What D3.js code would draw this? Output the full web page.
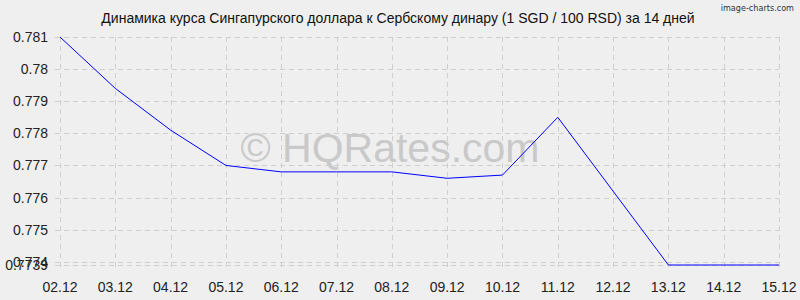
<!DOCTYPE html>
<html>
<head>
<meta charset="utf-8">
<script src="https://cdn.jsdelivr.net/npm/d3@7"></script>
<style>
  body { margin: 0; background: #efefef; }
  svg { display: block; font-family: "Liberation Sans", Arial, sans-serif; }
</style>
</head>
<body>
<svg id="chart" width="800" height="300"></svg>
<script>
// dates and rates
const dates = ["02.12", "03.12", "04.12", "05.12", "06.12", "07.12", "08.12",
               "09.12", "10.12", "11.12", "12.12", "13.12", "14.12", "15.12"];
const rates = [0.781, 0.7794, 0.7781, 0.7770, 0.7768, 0.7768, 0.7768,
               0.7766, 0.7767, 0.7785, 0.7762, 0.7739, 0.7739, 0.7739];
const yTicks = [0.774, 0.775, 0.776, 0.777, 0.778, 0.779, 0.78, 0.781];
const yMin = 0.7739;

const title = "Динамика курса Сингапурского доллара к Сербскому динару (1 SGD / 100 RSD) за 14 дней";

const svg = d3.select("#chart");
const width = 800, height = 300;
const margin = { left: 60, right: 21, top: 37, bottom: 35 };

const x = d3.scalePoint()
    .domain(dates)
    .range([margin.left, width - margin.right]);

const y = d3.scaleLinear()
    .domain([yMin, 0.781])
    .range([height - margin.bottom, margin.top]);

svg.append("rect").attr("width", width).attr("height", height).attr("fill", "#efefef");

// watermark
svg.append("text")
    .attr("x", 390)
    .attr("y", 162)
    .attr("text-anchor", "middle")
    .style("font-size", "41px")
    .style("fill", "#c9c9c9")
    .text("© HQRates.com");

// grid lines
const allTicks = yTicks.concat([yMin]);
svg.append("g").selectAll("line")
    .data(allTicks)
    .enter().append("line")
    .attr("x1", margin.left - 5)
    .attr("x2", width - margin.right)
    .attr("y1", d => Math.round(y(d)) + 0.5)
    .attr("y2", d => Math.round(y(d)) + 0.5)
    .style("stroke", "#cfcfcf")
    .style("stroke-dasharray", "5,4");

svg.append("g").selectAll("line")
    .data(dates)
    .enter().append("line")
    .attr("x1", d => Math.round(x(d)) + 0.5)
    .attr("x2", d => Math.round(x(d)) + 0.5)
    .attr("y1", margin.top)
    .attr("y2", height - margin.bottom + 5)
    .style("stroke", "#cfcfcf")
    .style("stroke-dasharray", "5,4");

// y labels
svg.append("g").selectAll("text")
    .data(allTicks)
    .enter().append("text")
    .attr("x", margin.left - 12)
    .attr("y", d => y(d) + 5)
    .attr("text-anchor", "end")
    .style("font-size", "14px")
    .style("fill", "#222")
    .text(d => d);

// x labels
svg.append("g").selectAll("text")
    .data(dates)
    .enter().append("text")
    .attr("x", d => x(d))
    .attr("y", height - 8)
    .attr("text-anchor", "middle")
    .style("font-size", "14px")
    .style("fill", "#222")
    .text(d => d);

// rate line
const line = d3.line()
    .x((d, i) => x(dates[i]))
    .y(d => y(d));

svg.append("path")
    .datum(rates)
    .attr("d", line)
    .style("fill", "none")
    .style("stroke", "#0000ff")
    .style("stroke-width", "1px");

// title
svg.append("text")
    .attr("x", 398)
    .attr("y", 23)
    .attr("text-anchor", "middle")
    .style("font-size", "14px")
    .style("fill", "#111")
    .text(title);

svg.append("text")
    .attr("x", 794)
    .attr("y", 11)
    .attr("text-anchor", "end")
    .style("font-family", "'DejaVu Sans Condensed', 'DejaVu Sans', sans-serif")
    .style("font-size", "9px")
    .style("fill", "#333")
    .text("image-charts.com");
</script>
</body>
</html>
